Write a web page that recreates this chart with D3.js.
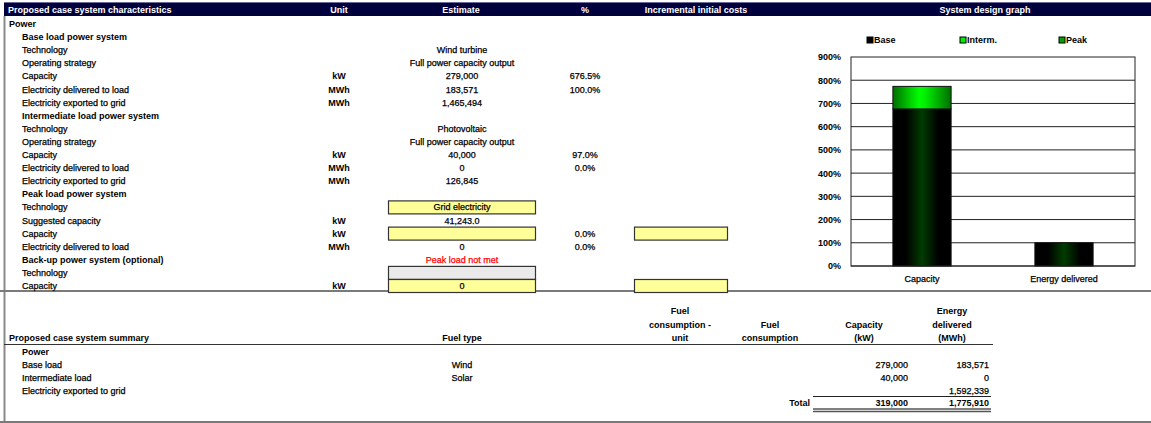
<!DOCTYPE html>
<html>
<head>
<meta charset="utf-8">
<script src="https://cdn.jsdelivr.net/npm/d3@7"></script>
<style>
  body { margin: 0; background: #fff; }
  svg { display: block; font-family: "Liberation Sans", Arial, sans-serif; }
  .soft { stroke: currentColor; stroke-width: 0.25px; }
</style>
</head>
<body>
<svg id="sheet" width="1151" height="423"></svg>
<script>
// ---- data ----
var headerLabels = ['Proposed case system characteristics', 'Unit', 'Estimate', '%', 'Incremental initial costs', 'System design graph']

var charLabels = ['Power', 'Base load power system', 'Technology', 'Operating strategy', 'Capacity',
  'Electricity delivered to load', 'Electricity exported to grid', 'Intermediate load power system',
  'Technology', 'Operating strategy', 'Capacity', 'Electricity delivered to load', 'Electricity exported to grid',
  'Peak load power system', 'Technology', 'Suggested capacity', 'Capacity', 'Electricity delivered to load',
  'Back-up power system (optional)', 'Technology', 'Capacity']
// 0 = section, 1 = sub heading, 2 = item
var charLevels = [0, 1, 2, 2, 2, 2, 2, 1, 2, 2, 2, 2, 2, 1, 2, 2, 2, 2, 1, 2, 2]
var charUnits = ['', '', '', '', 'kW', 'MWh', 'MWh', '', '', '', 'kW', 'MWh', 'MWh', '', '', 'kW', 'kW', 'MWh', '', '', 'kW']
var charEstimates = ['', '', 'Wind turbine', 'Full power capacity output', '279,000', '183,571', '1,465,494', '',
  'Photovoltaic', 'Full power capacity output', '40,000', '0', '126,845', '', 'Grid electricity', '41,243.0',
  '', '0', 'Peak load not met', '', '0']
var charPercents = ['', '', '', '', '676.5%', '100.0%', '', '', '', '', '97.0%', '0.0%', '', '', '', '', '0.0%', '0.0%', '', '', '']
var estimateInputs = {14: 'yellow', 16: 'yellow', 19: 'grey', 20: 'yellow'}
var costInputs = [16, 20]

var graphCategories = ['Capacity', 'Energy delivered']
var graphSeries = ['Base', 'Interm.', 'Peak']
var baseValues = [676.5, 100.0]
var intermValues = [97.0, 0.0]
var peakValues = [0.0, 0.0]
var graphTicks = [0, 100, 200, 300, 400, 500, 600, 700, 800, 900]

var summaryHeaders = [['Fuel', 'consumption -', 'unit'], ['Fuel', 'consumption'], ['Capacity', '(kW)'], ['Energy', 'delivered', '(MWh)']]
var summaryLabels = ['Power', 'Base load', 'Intermediate load', 'Electricity exported to grid']
var summaryFuel = ['', 'Wind', 'Solar', '']
var summaryCapacity = [null, 279000, 40000, null]
var summaryEnergy = [null, 183571, 0, 1592339]
var totalCapacity = 319000
var totalEnergy = 1775910

// ---- drawing ----
var svg = d3.select('#sheet')
var fmt = d3.format(',')
var fs = 9

// header bar
svg.append('rect').attr('x', 4).attr('y', 2).attr('width', 1147).attr('height', 14).attr('fill', '#00003c')
svg.append('line').attr('x1', 4).attr('x2', 1151).attr('y1', 2.5).attr('y2', 2.5).attr('stroke', '#6a6a9a')
var headerX = [8, 339, 461, 585, 696, 985]
svg.selectAll('text.hdr').data(headerLabels).join('text')
  .attr('class', 'hdr')
  .attr('x', (d, i) => headerX[i]).attr('y', 9.5)
  .attr('text-anchor', (d, i) => i == 0 ? 'start' : 'middle')
  .attr('dominant-baseline', 'central')
  .attr('fill', '#fff').attr('font-weight', 'bold').attr('font-size', fs)
  .text(d => d)

// frame lines
svg.append('line').attr('x1', 4.5).attr('x2', 4.5).attr('y1', 16).attr('y2', 423).attr('stroke', '#8a8a8a').attr('stroke-width', 2)
svg.append('line').attr('x1', 0).attr('x2', 1151).attr('y1', 291).attr('y2', 291).attr('stroke', '#7a7a7a').attr('stroke-width', 2)
svg.append('line').attr('x1', 0).attr('x2', 1151).attr('y1', 422).attr('y2', 422).attr('stroke', '#7a7a7a').attr('stroke-width', 2)

// characteristics table
var rowY = d3.scaleLinear().domain([0, 20]).range([24, 286])

// input boxes
Object.keys(estimateInputs).forEach(k => {
  var i = +k
  svg.append('rect')
    .attr('x', 388.5).attr('y', rowY(i) - 6.5).attr('width', 147).attr('height', 13)
    .attr('fill', estimateInputs[k] == 'yellow' ? '#ffff99' : '#eaeaea')
    .attr('stroke', '#333').attr('stroke-width', 1.2)
})
costInputs.forEach(i => {
  svg.append('rect')
    .attr('x', 634.5).attr('y', rowY(i) - 6.5).attr('width', 93).attr('height', 13)
    .attr('fill', '#ffff99').attr('stroke', '#333').attr('stroke-width', 1.2)
})

var rows = svg.append('g').attr('font-size', fs).attr('fill', '#000').style('color', '#000')
rows.selectAll('text.lbl').data(charLabels).join('text')
  .attr('class', (d, i) => charLevels[i] < 2 ? 'lbl' : 'lbl soft')
  .attr('x', (d, i) => charLevels[i] == 0 ? 9 : 22)
  .attr('y', (d, i) => rowY(i))
  .attr('dominant-baseline', 'central')
  .attr('font-weight', (d, i) => charLevels[i] < 2 ? 'bold' : 'normal')
  .text(d => d)
rows.selectAll('text.unit').data(charUnits).join('text')
  .attr('class', 'unit')
  .attr('x', 339).attr('y', (d, i) => rowY(i))
  .attr('text-anchor', 'middle').attr('dominant-baseline', 'central').attr('font-weight', 'bold')
  .text(d => d)
rows.selectAll('text.est').data(charEstimates).join('text')
  .attr('class', 'est soft')
  .attr('x', 462).attr('y', (d, i) => rowY(i))
  .attr('text-anchor', 'middle').attr('dominant-baseline', 'central')
  .attr('fill', d => d == 'Peak load not met' ? '#ff0000' : '#000')
  .style('color', d => d == 'Peak load not met' ? '#ff0000' : '#000')
  .text(d => d)
rows.selectAll('text.pct').data(charPercents).join('text')
  .attr('class', 'pct soft')
  .attr('x', 585).attr('y', (d, i) => rowY(i))
  .attr('text-anchor', 'middle').attr('dominant-baseline', 'central')
  .text(d => d)

// ---- system design graph ----
var x = d3.scaleBand().domain(graphCategories).range([851, 1135]).paddingInner(0.59).paddingOuter(0.295)
var y = d3.scaleLinear().domain([0, 900]).range([266, 57])

var defs = svg.append('defs')
var gBase = defs.append('linearGradient').attr('id', 'gradBase')
gBase.selectAll('stop').data([[0, '#000'], [0.22, '#000'], [0.5, '#003c00'], [0.78, '#000'], [1, '#000']]).join('stop')
  .attr('offset', d => d[0]).attr('stop-color', d => d[1])
var gInt = defs.append('linearGradient').attr('id', 'gradInt')
gInt.selectAll('stop').data([[0, '#006e00'], [0.45, '#00ff00'], [0.55, '#00f000'], [1, '#006e00']]).join('stop')
  .attr('offset', d => d[0]).attr('stop-color', d => d[1])
var gPeak = defs.append('linearGradient').attr('id', 'gradPeak')
gPeak.selectAll('stop').data([[0, '#003000'], [0.5, '#00a000'], [1, '#003000']]).join('stop')
  .attr('offset', d => d[0]).attr('stop-color', d => d[1])
var fills = ['url(#gradBase)', 'url(#gradInt)', 'url(#gradPeak)']

var graph = svg.append('g')
graph.append('rect').attr('x', 851).attr('y', 57).attr('width', 284).attr('height', 209)
  .attr('fill', '#fff').attr('stroke', '#222').attr('stroke-width', 1)
graph.selectAll('line.grid').data(graphTicks.slice(1, -1)).join('line')
  .attr('class', 'grid')
  .attr('x1', 851).attr('x2', 1135).attr('y1', d => y(d)).attr('y2', d => y(d))
  .attr('stroke', '#222').attr('stroke-width', 1)

var table = graphCategories.map((c, i) => ({cat: c, 'Base': baseValues[i], 'Interm.': intermValues[i], 'Peak': peakValues[i]}))
var stacked = d3.stack().keys(graphSeries)(table)
graph.selectAll('g.series').data(stacked).join('g')
  .attr('class', 'series')
  .attr('fill', (d, i) => fills[i])
  .selectAll('rect').data(d => d.filter(v => v[1] - v[0] > 0)).join('rect')
  .attr('x', d => x(d.data.cat)).attr('width', x.bandwidth())
  .attr('y', d => y(d[1])).attr('height', d => y(d[0]) - y(d[1]))
  .attr('stroke', '#111').attr('stroke-width', 1)

graph.append('line').attr('x1', 851).attr('x2', 1135).attr('y1', y(0)).attr('y2', y(0)).attr('stroke', '#222')

var yAxis = graph.append('g').attr('transform', 'translate(851,0)')
  .call(d3.axisLeft(y).tickValues(graphTicks).tickSize(0).tickPadding(10).tickFormat(d => d + '%'))
yAxis.select('.domain').remove()
yAxis.selectAll('text').attr('font-size', 9).attr('font-weight', 'bold').attr('font-family', 'Liberation Sans, Arial, sans-serif')

var xAxis = graph.append('g').attr('transform', 'translate(0,266)')
  .call(d3.axisBottom(x).tickSize(0).tickPadding(10))
xAxis.select('.domain').remove()
xAxis.selectAll('text').attr('font-size', fs).attr('font-family', 'Liberation Sans, Arial, sans-serif')
  .attr('class', 'soft').style('color', '#000')

var legendX = [867, 960, 1059]
var leg = graph.selectAll('g.leg').data(graphSeries).join('g')
  .attr('class', 'leg').attr('transform', (d, i) => `translate(${legendX[i]},40)`)
leg.append('rect').attr('x', 0).attr('y', -3).attr('width', 6).attr('height', 6)
  .attr('fill', (d, i) => ['#000', '#00ee00', '#00a000'][i]).attr('stroke', '#000').attr('stroke-width', 1)
leg.append('text').attr('x', 7).attr('y', 0).attr('dominant-baseline', 'central')
  .attr('font-size', 9).attr('font-weight', 'bold').text(d => d)

// ---- summary ----
var sum = svg.append('g').attr('font-size', fs).style('color', '#000')
var sumHeadX = [680, 770, 864, 952]
summaryHeaders.forEach((lines, i) => {
  lines.forEach((t, j) => {
    sum.append('text')
      .attr('x', sumHeadX[i]).attr('y', 338 - 13.3 * (lines.length - 1 - j))
      .attr('text-anchor', 'middle').attr('dominant-baseline', 'central').attr('font-weight', 'bold')
      .text(t)
  })
})
sum.append('text').attr('x', 9).attr('y', 338).attr('dominant-baseline', 'central').attr('font-weight', 'bold')
  .text('Proposed case system summary')
sum.append('text').attr('x', 462).attr('y', 338).attr('text-anchor', 'middle').attr('dominant-baseline', 'central').attr('font-weight', 'bold')
  .text('Fuel type')
sum.append('line').attr('x1', 4).attr('x2', 993).attr('y1', 344.5).attr('y2', 344.5).attr('stroke', '#333')

var sumY = d3.scaleLinear().domain([0, 3]).range([352, 391])
sum.selectAll('text.slbl').data(summaryLabels).join('text')
  .attr('class', (d, i) => i == 0 ? 'slbl' : 'slbl soft')
  .attr('x', 22).attr('y', (d, i) => sumY(i)).attr('dominant-baseline', 'central')
  .attr('font-weight', (d, i) => i == 0 ? 'bold' : 'normal')
  .text(d => d)
sum.selectAll('text.fuel').data(summaryFuel).join('text')
  .attr('class', 'fuel soft')
  .attr('x', 462).attr('y', (d, i) => sumY(i)).attr('text-anchor', 'middle').attr('dominant-baseline', 'central')
  .text(d => d)
sum.selectAll('text.cap').data(summaryCapacity).join('text')
  .attr('class', 'cap soft')
  .attr('x', 908).attr('y', (d, i) => sumY(i)).attr('text-anchor', 'end').attr('dominant-baseline', 'central')
  .text(d => d == null ? '' : fmt(d))
sum.selectAll('text.en').data(summaryEnergy).join('text')
  .attr('class', 'en soft')
  .attr('x', 989).attr('y', (d, i) => sumY(i)).attr('text-anchor', 'end').attr('dominant-baseline', 'central')
  .text(d => d == null ? '' : fmt(d))

sum.append('line').attr('x1', 813).attr('x2', 991).attr('y1', 396.5).attr('y2', 396.5).attr('stroke', '#222').attr('stroke-width', 1.2)
var totalY = 403
sum.append('text').attr('x', 810).attr('y', totalY).attr('text-anchor', 'end').attr('dominant-baseline', 'central').attr('font-weight', 'bold').text('Total')
sum.append('text').attr('x', 908).attr('y', totalY).attr('text-anchor', 'end').attr('dominant-baseline', 'central').attr('font-weight', 'bold').text(fmt(totalCapacity))
sum.append('text').attr('x', 989).attr('y', totalY).attr('text-anchor', 'end').attr('dominant-baseline', 'central').attr('font-weight', 'bold').text(fmt(totalEnergy))
sum.append('line').attr('x1', 813).attr('x2', 991).attr('y1', 409).attr('y2', 409).attr('stroke', '#555').attr('stroke-width', 1.5)
sum.append('line').attr('x1', 813).attr('x2', 991).attr('y1', 411.5).attr('y2', 411.5).attr('stroke', '#555').attr('stroke-width', 1.5)
</script>
</body>
</html>
